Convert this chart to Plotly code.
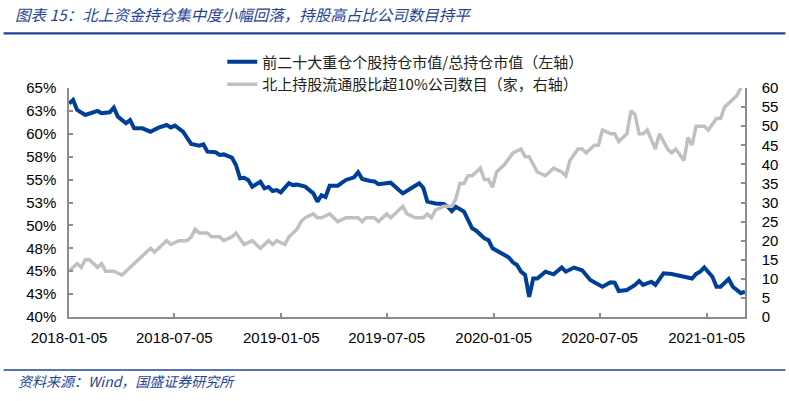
import plotly.graph_objects as go

# ---------------- data ----------------
title_text = "图表 15：北上资金持仓集中度小幅回落，持股高占比公司数目持平"
source_text = "资料来源：Wind，国盛证券研究所"
name_top20 = "前二十大重仓个股持仓市值/总持仓市值（左轴）"
name_count = "北上持股流通股比超10%公司数目（家，右轴）"

top20_dates = ["2018-01-05","2018-01-12","2018-01-19","2018-02-02","2018-02-23","2018-03-02","2018-03-16","2018-03-23","2018-03-30","2018-04-13",
               "2018-04-20","2018-04-27","2018-05-11","2018-05-25","2018-06-08","2018-06-22","2018-06-29","2018-07-06","2018-07-20","2018-08-03",
               "2018-08-17","2018-08-24","2018-08-31","2018-09-14","2018-09-21","2018-09-28","2018-10-12","2018-10-19","2018-10-26","2018-11-02",
               "2018-11-09","2018-11-16","2018-11-30","2018-12-07","2018-12-14","2018-12-21","2018-12-28","2019-01-04","2019-01-18","2019-01-25",
               "2019-02-01","2019-02-15","2019-03-01","2019-03-08","2019-03-15","2019-03-22","2019-03-29","2019-04-12","2019-04-26","2019-05-10",
               "2019-05-17","2019-05-24","2019-06-07","2019-06-14","2019-06-21","2019-07-12","2019-07-26","2019-08-02","2019-08-16","2019-08-30",
               "2019-09-06","2019-09-13","2019-09-27","2019-10-11","2019-10-18","2019-10-25","2019-11-01","2019-11-15","2019-11-29","2019-12-06",
               "2019-12-20","2019-12-27","2020-01-03","2020-01-17","2020-01-31","2020-02-07","2020-02-14","2020-02-21","2020-02-28","2020-03-06",
               "2020-03-13","2020-03-20","2020-04-03","2020-04-17","2020-05-01","2020-05-08","2020-05-22","2020-06-05","2020-06-19","2020-06-26",
               "2020-07-10","2020-07-24","2020-07-31","2020-08-07","2020-08-21","2020-09-04","2020-09-11","2020-09-18","2020-10-02","2020-10-09",
               "2020-10-23","2020-11-06","2020-11-13","2020-11-27","2020-12-11","2020-12-18","2020-12-25","2021-01-01","2021-01-15","2021-01-22",
               "2021-01-29","2021-02-12","2021-02-19","2021-03-05","2021-03-12"]
top20_share = [63.3, 63.7, 62.6, 62.05, 62.5, 62.24, 62.35, 62.85, 61.87, 61.15,
               61.5, 60.6, 60.6, 60.23, 60.67, 60.96, 60.7, 60.9, 60.23, 58.9,
               58.7, 58.85, 58.05, 57.98, 57.7, 57.75, 57.4, 56.6, 55.14, 55.2,
               54.96, 54.23, 54.77, 54.05, 54.2, 53.76, 53.85, 53.6, 54.6, 54.4,
               54.45, 54.23, 53.5, 52.59, 53.3, 53.1, 54.33, 54.33, 54.96, 55.25,
               55.8, 55.07, 54.85, 54.8, 54.5, 54.66, 53.86, 53.5, 54.05, 54.6,
               54.1, 52.6, 52.4, 52.34, 52.04, 51.57, 52.04, 51.5, 49.68, 49.42,
               48.6, 48.4, 47.5, 47.06, 46.5, 45.97, 45.68, 44.95, 44.6, 42.2,
               44.2, 44.2, 44.95, 44.66, 45.4, 44.95, 45.4, 45.1, 44.04, 43.8,
               43.3, 43.8, 43.75, 42.84, 42.95, 43.5, 43.93, 43.5, 43.85, 43.5,
               44.77, 44.7, 44.6, 44.5, 44.2, 44.7, 44.95, 45.4, 44.4, 43.3,
               43.3, 44.15, 43.3, 42.6, 42.77]

count_dates = ["2018-01-05","2018-01-19","2018-01-26","2018-02-02","2018-02-09","2018-02-23","2018-03-02","2018-03-09","2018-03-23","2018-04-06",
               "2018-04-13","2018-05-04","2018-05-25","2018-06-01","2018-06-08","2018-06-22","2018-06-29","2018-07-13","2018-07-27","2018-08-03",
               "2018-08-10","2018-08-17","2018-08-31","2018-09-07","2018-09-21","2018-09-28","2018-10-12","2018-10-19","2018-11-02","2018-11-16",
               "2018-11-23","2018-11-30","2018-12-14","2018-12-21","2018-12-28","2019-01-11","2019-01-18","2019-02-01","2019-02-08","2019-02-15",
               "2019-03-01","2019-03-08","2019-03-15","2019-03-29","2019-04-12","2019-04-26","2019-05-17","2019-05-24","2019-05-31","2019-06-14",
               "2019-06-21","2019-07-05","2019-07-12","2019-07-26","2019-08-02","2019-08-09","2019-08-23","2019-09-06","2019-09-13","2019-09-20",
               "2019-09-27","2019-10-11","2019-10-25","2019-11-01","2019-11-08","2019-11-15","2019-11-22","2019-11-29","2019-12-13","2019-12-20",
               "2019-12-27","2020-01-03","2020-01-10","2020-01-24","2020-02-07","2020-02-21","2020-02-28","2020-03-06","2020-03-20","2020-04-03",
               "2020-04-17","2020-05-01","2020-05-08","2020-05-15","2020-05-29","2020-06-05","2020-06-12","2020-06-26","2020-07-03","2020-07-10",
               "2020-07-24","2020-07-31","2020-08-07","2020-08-21","2020-08-28","2020-09-04","2020-09-11","2020-09-18","2020-09-25","2020-10-09",
               "2020-10-16","2020-10-30","2020-11-06","2020-11-13","2020-11-27","2020-12-04","2020-12-11","2020-12-18","2021-01-01","2021-01-08",
               "2021-01-22","2021-01-29","2021-02-05","2021-02-19","2021-02-26","2021-03-05"]
count_firms = [12, 14, 13, 15, 15, 13, 14, 12, 12, 11,
               12, 15, 18, 17, 18, 20, 19, 20, 20, 21,
               23, 22, 22, 21, 21, 20, 21, 22, 19, 20,
               19, 18, 20, 19, 20, 19, 21, 23, 25, 26,
               27, 26, 26, 27, 25, 26, 26, 25, 26, 26,
               25, 27, 26, 28, 29, 27, 26, 26, 27, 26,
               28, 29, 29, 31, 35, 35, 37, 37, 39, 36,
               36, 34, 38, 40, 43, 44, 42, 42, 38, 37,
               39, 38, 37, 41, 44, 44, 43, 45, 45, 49,
               48, 48, 46, 48, 54, 53, 48, 48, 49, 44,
               48, 44, 43, 44, 41, 47, 45, 50, 50, 49,
               52, 52, 55, 57, 58, 60]

x_tickvals = ["2018-01-05", "2018-07-05", "2019-01-05", "2019-07-05", "2020-01-05", "2020-07-05", "2021-01-05"]
x_range = ["2018-01-05", "2021-03-12"]
left_tickvals = [40, 42.5, 45, 47.5, 50, 52.5, 55, 57.5, 60, 62.5, 65]
left_ticktext = ["40%", "43%", "45%", "48%", "50%", "53%", "55%", "58%", "60%", "63%", "65%"]
right_tickvals = [0, 5, 10, 15, 20, 25, 30, 35, 40, 45, 50, 55, 60]

# ---------------- figure ----------------
W, H = 789, 401
L, R, T, B = 68.5, 745.5, 88, 317
PW, PH = R - L, B - T

def px(x):
    return (x - L) / PW

def py(y):
    return (B - y) / PH

BLUE = "#003F98"
GRAY = "#C0C0C0"
NAVY = "#1F4497"
AX = "#8C8C8C"
TICKFONT = dict(family="Liberation Sans, Arial, sans-serif", size=15, color="#000000")
CJK = "Noto Sans CJK SC, Liberation Sans, sans-serif"

fig = go.Figure()
fig.add_trace(go.Scatter(x=top20_dates, y=top20_share, name=name_top20, mode="lines",
                         line=dict(color=BLUE, width=4), yaxis="y"))
fig.add_trace(go.Scatter(x=count_dates, y=count_firms, name=name_count, mode="lines",
                         line=dict(color=GRAY, width=3.5), yaxis="y2"))

fig.update_layout(
    width=W, height=H,
    margin=dict(l=L, r=W - R, t=T, b=H - B, pad=0),
    paper_bgcolor="white", plot_bgcolor="white",
    title=dict(text=title_text, xref="container", yref="container",
               x=15 / W, xanchor="left", y=1 - 16 / H, yanchor="middle",
               font=dict(family=CJK, size=15.5, color=NAVY, style="italic")),
    xaxis=dict(type="date", range=x_range, tickvals=x_tickvals, tickformat="%Y-%m-%d",
               showgrid=False, zeroline=False, showline=True, linecolor=AX, linewidth=1.5,
               ticks="inside", ticklen=4, tickcolor=AX, tickwidth=1.5,
               tickfont=TICKFONT, ticklabelstandoff=6),
    yaxis=dict(range=[40, 65], tickvals=left_tickvals, ticktext=left_ticktext,
               showgrid=False, zeroline=False, showline=True, linecolor=AX, linewidth=1.5,
               ticks="inside", ticklen=4, tickcolor=AX, tickwidth=1.5,
               tickfont=TICKFONT, ticklabelstandoff=8),
    yaxis2=dict(range=[0, 60], tickvals=right_tickvals, overlaying="y", side="right",
                showgrid=False, zeroline=False, showline=True, linecolor=AX, linewidth=1.5,
                ticks="inside", ticklen=4, tickcolor=AX, tickwidth=1.5,
                tickfont=TICKFONT, ticklabelstandoff=12),
    legend=dict(x=px(222), xanchor="left", y=py(45.5), yanchor="top",
                orientation="v", bgcolor="rgba(0,0,0,0)",
                font=dict(family=CJK, size=15, color="#222222"),
                itemwidth=30, tracegroupgap=0),
    showlegend=True,
    shapes=[
        dict(type="line", xref="paper", yref="paper", x0=px(3), x1=px(786), y0=py(33.3), y1=py(33.3),
             line=dict(color=NAVY, width=2.3)),
        dict(type="line", xref="paper", yref="paper", x0=px(3), x1=px(786), y0=py(370), y1=py(370),
             line=dict(color=NAVY, width=1.3)),
    ],
    annotations=[
        dict(text=source_text, xref="paper", yref="paper", x=px(15), y=py(381),
             xanchor="left", yanchor="middle", showarrow=False,
             font=dict(family=CJK, size=14, color=NAVY, style="italic")),
    ],
)

fig.write_html("out.html", config={"displayModeBar": False},
               post_script="document.body.style.margin='0';")
